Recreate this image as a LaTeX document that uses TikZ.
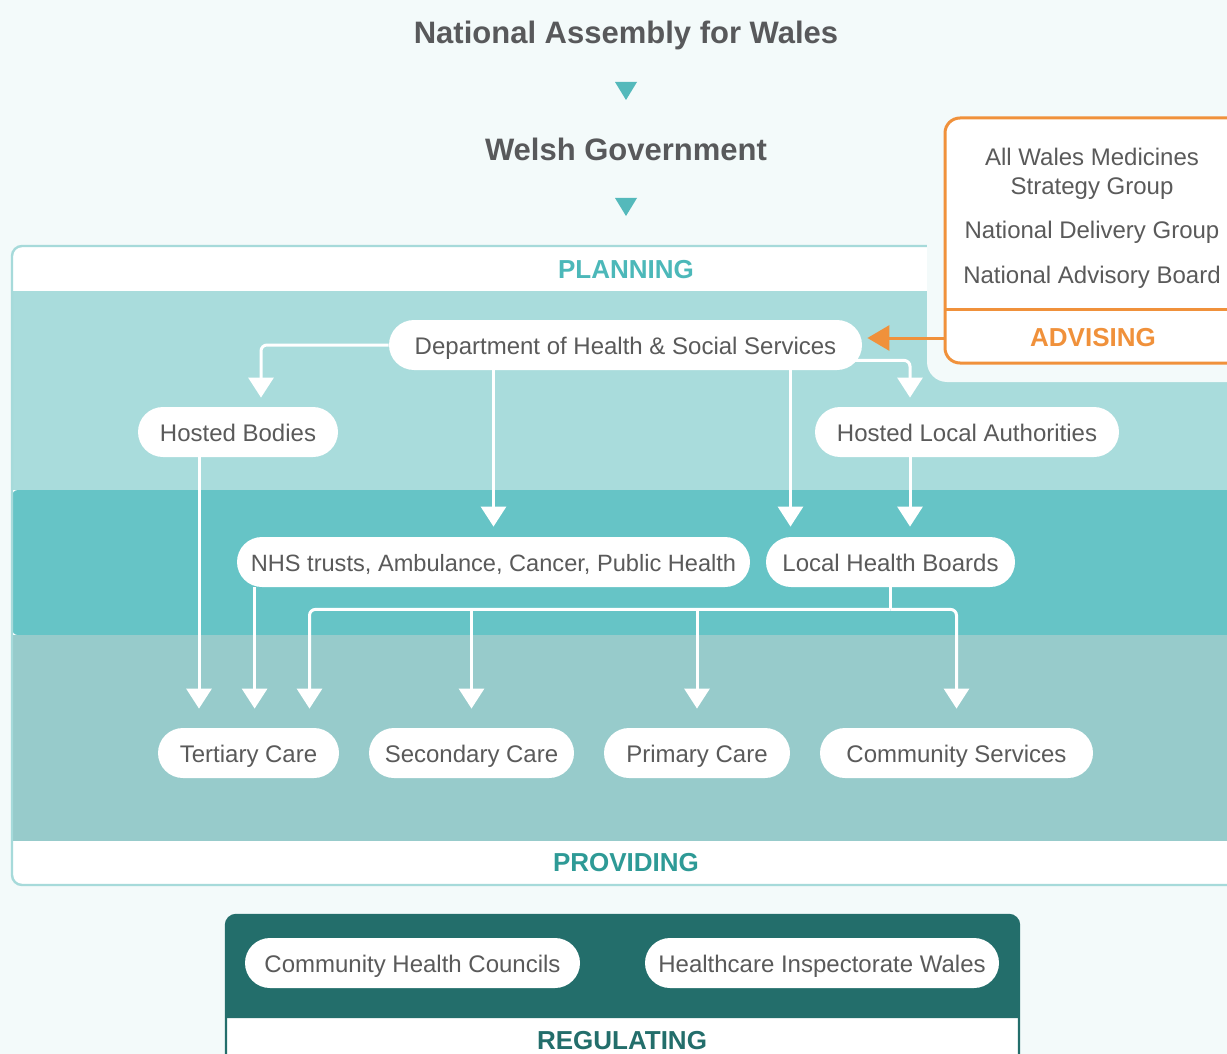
\documentclass[tikz,border=0pt]{standalone}
\usepackage{fontspec}
\setmainfont{Liberation Sans}
\usetikzlibrary{positioning,arrows.meta}

\definecolor{bgpale}{HTML}{F3FAFA}
\definecolor{planline}{HTML}{A6DADA}
\definecolor{bandtop}{HTML}{A9DCDC}
\definecolor{bandmid}{HTML}{66C4C6}
\definecolor{bandlow}{HTML}{97CBCB}
\definecolor{plantext}{HTML}{4CB8B9}
\definecolor{provtext}{HTML}{2E9A96}
\definecolor{regteal}{HTML}{236E6B}
\definecolor{advorange}{HTML}{F0913B}
\definecolor{titlegray}{HTML}{58595B}
\definecolor{textgray}{HTML}{5A5A5A}
\definecolor{tipteal}{HTML}{54B9BB}

\begin{document}
\begin{tikzpicture}[
  x=0.5pt, y=-0.5pt,
  every node/.style={font=\fontsize{12}{14}\selectfont, text=textgray},
  pill/.style={
    rectangle, rounded corners=12.5pt, fill=white,
    minimum height=25pt, inner sep=0pt, align=center,
    text height=9.7pt, text depth=0pt
  },
  title/.style={font=\fontsize{15.5}{18}\selectfont\bfseries, text=titlegray},
  band/.style={font=\fontsize{13}{15}\selectfont\bfseries},
  conn/.style={draw=white, line width=1.5pt, rounded corners=3pt,
    -{Triangle[width=12.5pt,length=10pt]}},
  advarrow/.style={draw=advorange, line width=1.5pt,
    -{Triangle[width=12.5pt,length=11pt]}}
]
\clip (0,0) rectangle (1227,1054);
\fill[bgpale] (0,0) rectangle (1227,1054);

% top of the hierarchy
\node[title] (assembly) at (626,35) {National Assembly for Wales};
\node[title] (govt) at (626,149) {Welsh Government};
\fill[tipteal] (615,82) -- (637,82) -- (626,100) -- cycle;
\fill[tipteal] (615,198) -- (637,198) -- (626,216) -- cycle;

% planning / providing frame
\fill[white, rounded corners=5pt] (12,246) rectangle (1260,885);
\fill[bandtop] (13,291) rectangle (1260,490);
\fill[bandmid, rounded corners=3pt] (12,490) rectangle (1260,635);
\fill[bandlow] (13,635) rectangle (1260,841);
\draw[planline, line width=1.2pt, rounded corners=5pt] (12,246) rectangle (1260,885);
\node[band, text=plantext] (planning) at (626,270) {PLANNING};
\node[band, text=provtext] (providing) at (626,863) {PROVIDING};

% advising box
\fill[bgpale, rounded corners=10pt] (927,150) rectangle (1260,382);
\node[draw=advorange, line width=1.5pt, fill=white, rounded corners=7.5pt,
  minimum width=157.5pt, minimum height=122.5pt] (adv) at (1102.5,240.5) {};
\draw[advorange, line width=1.5pt] (945,309) -- (1260,309);
\node[align=center, font=\fontsize{12}{14.5}\selectfont] (awmsg) at (1092,173.5) {All Wales Medicines\\Strategy Group};
\node (ndg) at (1092,232) {National Delivery Group};
\node (nab) at (1092,277) {National Advisory Board};
\node[band, text=advorange] (advising) at (1093,338) {ADVISING};

% regulating box
\fill[white, rounded corners=5pt] (226,915) rectangle (1019,1080);
\fill[regteal] (226,1018) [rounded corners=5pt] -- (226,915) -- (1019,915) [sharp corners] -- (1019,1018) -- cycle;
\draw[regteal, line width=1.2pt, rounded corners=5pt] (226,915) rectangle (1019,1080);
\node[band, text=regteal] (regulating) at (622,1041) {REGULATING};

% bodies
\node[pill, minimum width=236.5pt] (dept) at (625.5,345) {Department of Health \& Social Services};
\node[pill, minimum width=100pt] (hosted) at (238,432) {Hosted Bodies};
\node[pill, minimum width=152pt] (hostedla) at (967,432) {Hosted Local Authorities};
\node[pill, minimum width=256.5pt, font=\fontsize{11.8}{14}\selectfont] (nhs) at (493.5,562) {NHS trusts, Ambulance, Cancer, Public Health};
\node[pill, minimum width=124.5pt] (lhb) at (890.5,562) {Local Health Boards};
\node[pill, minimum width=90.5pt] (tertiary) at (248.5,753) {Tertiary Care};
\node[pill, minimum width=102.5pt] (secondary) at (471.5,753) {Secondary Care};
\node[pill, minimum width=93pt] (primary) at (697,753) {Primary Care};
\node[pill, minimum width=136.5pt] (community) at (956.5,753) {Community Services};
\node[pill, minimum width=167.5pt] (chc) at (412.5,963) {Community Health Councils};
\node[pill, minimum width=177pt] (hiw) at (822,963) {Healthcare Inspectorate Wales};

% links
\draw[advarrow] (adv.west |- advising) -- ([xshift=2.5pt]dept.east |- advising);
\draw[conn, shorten >=4.5pt] (dept.west) -| ([xshift=11.5pt]hosted.north);
\draw[conn, shorten >=5pt] (nhs.north |- dept.south) -- (nhs.north);
\draw[conn, shorten >=5pt] ([xshift=-50pt]lhb.north |- dept.south) -- ([xshift=-50pt]lhb.north);
\draw[conn, shorten >=4.5pt] ([shift={(-6pt,5pt)}]dept.south east) -| ([xshift=-28.5pt]hostedla.north);
\draw[conn, shorten >=5pt] ([xshift=-28.5pt]hostedla.south) -- ([xshift=-28.5pt]hostedla.south |- lhb.north);
\draw[conn, shorten >=9.5pt] ([xshift=-19.5pt]hosted.south) -- ([xshift=-19.5pt]hosted.south |- tertiary.north);
\draw[conn, shorten >=9.5pt] ([xshift=9pt]nhs.south west) -- ([xshift=9pt]nhs.south west |- tertiary.north);

% local health boards fan out to care
\coordinate (fan) at ([yshift=-11pt]lhb.south);
\draw[white, line width=1.5pt] (lhb.south) -- (fan);
\draw[conn, shorten >=9.5pt] (fan) -| ([xshift=30.5pt]tertiary.north);
\draw[conn, shorten >=9.5pt] (fan) -| (community.north);
\foreach \care in {secondary,primary}
  \draw[conn, shorten >=9.5pt] (\care.north |- fan) -- (\care.north);
\end{tikzpicture}
\end{document}
